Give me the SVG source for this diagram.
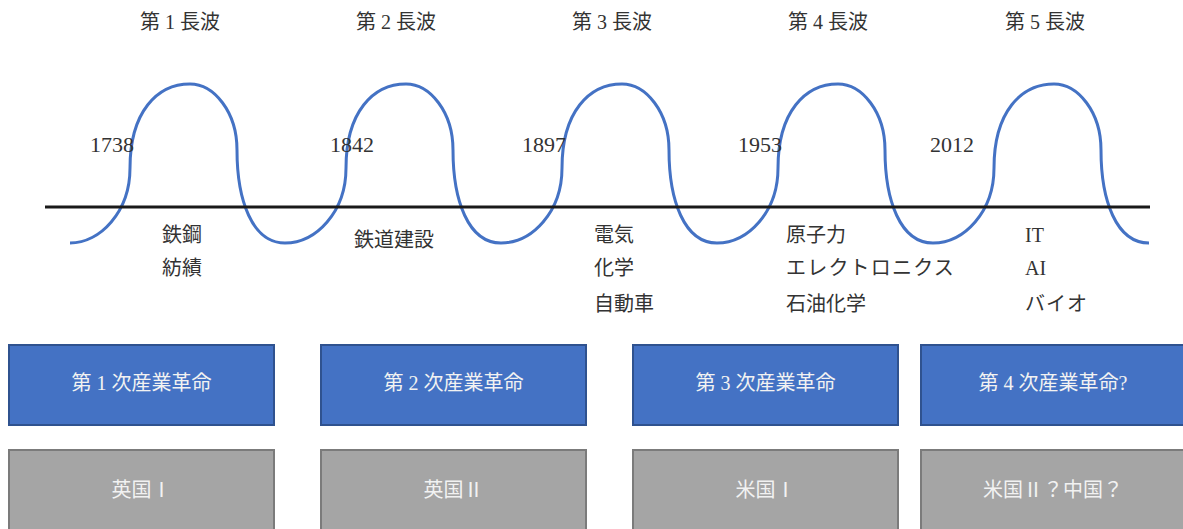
<svg xmlns="http://www.w3.org/2000/svg" width="1183" height="529" viewBox="0 0 1183 529">
<style>
text{font-family:"Liberation Serif","Noto Sans CJK JP",serif;font-size:20px;fill:#333}
.y{font-size:22px}
.c{text-anchor:middle}
.w{fill:#f2f2f2;text-anchor:middle}
.blue{fill:#4472C4;stroke:#2F528F;stroke-width:2}
.gray{fill:#A5A5A5;stroke:#7B7B7B;stroke-width:2}
.wave{fill:none;stroke:#4472C4;stroke-width:3}
</style>
<rect width="1183" height="529" fill="#fff"/>
<g id="connectors">
<path class="wave" d="M70,243 C100,243 130,212 130,168 C130,112 157,84 190,84 C214,84 237,112 237,150 C237,200 252,243 285,243 C316,243 346,212 346,168 C346,112 373,84 406,84 C430,84 453,112 453,150 C453,200 468,243 501,243 C532,243 562,212 562,168 C562,112 589,84 622,84 C646,84 669,112 669,150 C669,200 684,243 717,243 C748,243 778,212 778,168 C778,112 805,84 838,84 C862,84 885,112 885,150 C885,200 900,243 933,243 C964,243 994,212 994,168 C994,112 1021,84 1054,84 C1078,84 1101,112 1101,150 C1101,200 1116,243 1149,243"/>
<line x1="45" y1="207" x2="1150" y2="207" stroke="#1a1a1a" stroke-width="3"/>
</g>
<g id="headers">
<text class="c" x="180" y="29">第 1 長波</text>
<text class="c" x="396" y="29">第 2 長波</text>
<text class="c" x="612" y="29">第 3 長波</text>
<text class="c" x="828" y="29">第 4 長波</text>
<text class="c" x="1045" y="29">第 5 長波</text>
</g>
<g id="years">
<text class="y" x="90" y="152">1738</text>
<text class="y" x="330" y="152">1842</text>
<text class="y" x="522" y="152">1897</text>
<text class="y" x="738" y="152">1953</text>
<text class="y" x="930" y="152">2012</text>
</g>
<g id="wave1-items">
<text x="162" y="242">鉄鋼</text>
<text x="162" y="275">紡績</text>
</g>
<g id="wave2-items">
<text x="354" y="247">鉄道建設</text>
</g>
<g id="wave3-items">
<text x="594" y="242">電気</text>
<text x="594" y="275">化学</text>
<text x="594" y="311">自動車</text>
</g>
<g id="wave4-items">
<text x="786" y="242">原子力</text>
<text x="786" y="275" letter-spacing="1.2">エレクトロニクス</text>
<text x="786" y="311">石油化学</text>
</g>
<g id="wave5-items">
<text x="1025" y="242">IT</text>
<text x="1025" y="275">AI</text>
<text x="1025" y="311" letter-spacing="1">バイオ</text>
</g>
<g id="rev1"><rect class="blue" x="9" y="345" width="265" height="80"/><text class="w" x="141.5" y="390">第 1 次産業革命</text></g>
<g id="rev2"><rect class="blue" x="321" y="345" width="265" height="80"/><text class="w" x="453.5" y="390">第 2 次産業革命</text></g>
<g id="rev3"><rect class="blue" x="633" y="345" width="265" height="80"/><text class="w" x="765.5" y="390">第 3 次産業革命</text></g>
<g id="rev4"><rect class="blue" x="921" y="345" width="265" height="80"/><text class="w" x="1053" y="390">第 4 次産業革命?</text></g>
<g id="country1"><rect class="gray" x="9" y="450" width="265" height="90"/><text class="w" x="141.5" y="497">英国Ⅰ</text></g>
<g id="country2"><rect class="gray" x="321" y="450" width="265" height="90"/><text class="w" x="453.5" y="497">英国Ⅱ</text></g>
<g id="country3"><rect class="gray" x="633" y="450" width="265" height="90"/><text class="w" x="765.5" y="497">米国Ⅰ</text></g>
<g id="country4"><rect class="gray" x="921" y="450" width="265" height="90"/><text class="w" x="1053" y="497">米国Ⅱ？中国？</text></g>
</svg>
